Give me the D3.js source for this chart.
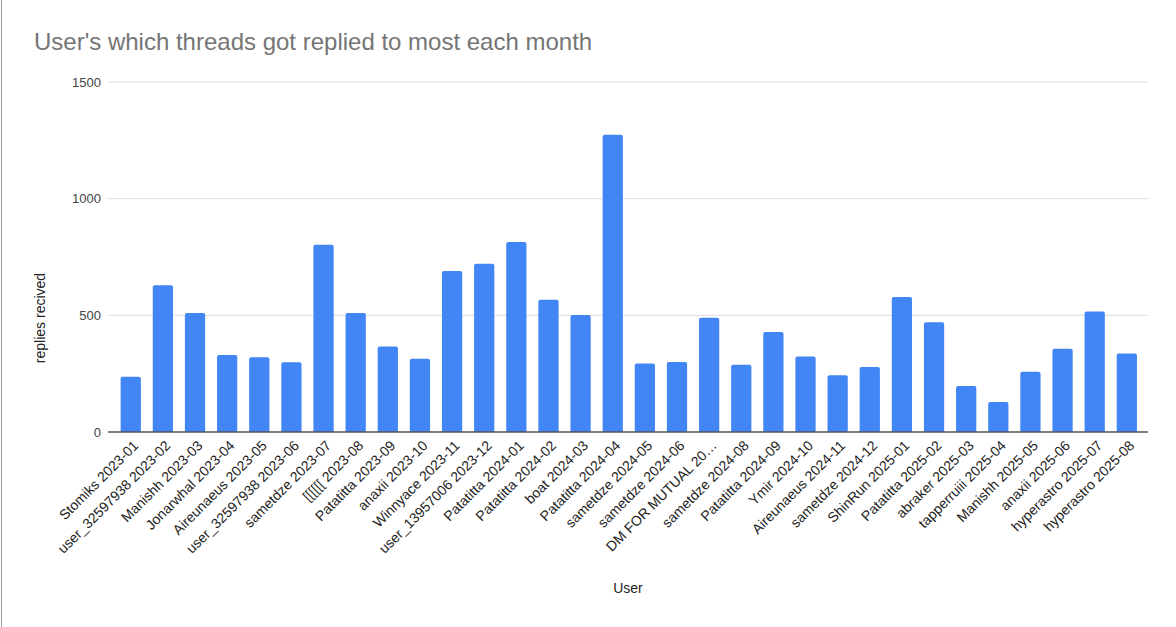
<!DOCTYPE html><html><head>
<meta charset="utf-8">
<style>
  body { margin:0; background:#fff; }
  text { font-family: Arial, "Liberation Sans", sans-serif; }
</style>
</head>
<body>
<svg width="1176" height="627"></svg>
<script src="https://cdn.jsdelivr.net/npm/d3@7"></script>
<script>
// chart data
var users = ["Stomiks 2023-01","user_32597938 2023-02","Manishh 2023-03","Jonarwhal 2023-04",
  "Aireunaeus 2023-05","user_32597938 2023-06","sametdze 2023-07","[[[[[[ 2023-08",
  "Patatitta 2023-09","anaxii 2023-10","Winnyace 2023-11","user_13957006 2023-12",
  "Patatitta 2024-01","Patatitta 2024-02","boat 2024-03","Patatitta 2024-04",
  "sametdze 2024-05","sametdze 2024-06","DM FOR MUTUAL  20\u2026","sametdze 2024-08",
  "Patatitta 2024-09","Ymir 2024-10","Aireunaeus 2024-11","sametdze 2024-12",
  "ShinRun 2025-01","Patatitta 2025-02","abraker 2025-03","tapperruiii 2025-04",
  "Manishh 2025-05","anaxii 2025-06","hyperastro 2025-07","hyperastro 2025-08"];
var replies = [237,629,510,330,320,299,803,510,366,314,690,721,814,567,501,1274,
  294,300,490,288,429,324,243,279,579,470,197,129,258,357,516,336];
var yTicks = [0,500,1000,1500];

var svg = d3.select("svg");

// frame line on the left edge
svg.append("line").attr("x1",1.5).attr("x2",1.5).attr("y1",0).attr("y2",627)
   .attr("stroke","#9e9e9e").attr("stroke-width",1);

var x = d3.scaleBand().domain(users).range([114.7,1142.9]).paddingInner(0.37).paddingOuter(0.185);
var y = d3.scaleLinear().domain([0,1500]).range([432,82]);

// gridlines + tick labels
var grid = svg.append("g");
grid.selectAll("line").data(yTicks.filter(function(d){ return d>0; })).enter()
  .append("line")
  .attr("x1",108).attr("x2",1148)
  .attr("y1",function(d){ return y(d); }).attr("y2",function(d){ return y(d); })
  .attr("stroke","#dcdcdc").attr("stroke-width",1);

grid.selectAll("text").data(yTicks).enter()
  .append("text")
  .attr("x",101).attr("y",function(d){ return y(d); }).attr("dy","0.35em")
  .attr("text-anchor","end").attr("font-size",13).attr("fill","#444")
  .text(function(d){ return d; });

// bars with rounded tops
var r = 2;
svg.append("g").selectAll("path").data(replies).enter()
  .append("path")
  .attr("fill","#4285f4")
  .attr("d", function(d,i){
    var x0 = x(users[i]), w = x.bandwidth(), yt = y(d), yb = y(0);
    return "M"+x0+","+yb+"V"+(yt+r)+"Q"+x0+","+yt+" "+(x0+r)+","+yt+
           "H"+(x0+w-r)+"Q"+(x0+w)+","+yt+" "+(x0+w)+","+(yt+r)+"V"+yb+"Z";
  });

// baseline
svg.append("line").attr("x1",108).attr("x2",1148).attr("y1",y(0)).attr("y2",y(0))
   .attr("stroke","#555").attr("stroke-width",1.3);

// x labels
svg.append("g").selectAll("text").data(users).enter()
  .append("text")
  .attr("transform",function(d){ return "translate("+(x(d)+x.bandwidth()/2+5)+",443) rotate(-45)"; })
  .attr("text-anchor","end").attr("dy","0.35em")
  .attr("font-size",14).attr("fill","#222")
  .text(function(d){ return d; });

// titles
svg.append("text").attr("x",34).attr("y",50)
  .attr("font-size",24).attr("fill","#757575")
  .text("User's which threads got replied to most each month");

svg.append("text")
  .attr("transform","translate(45,318) rotate(-90)")
  .attr("text-anchor","middle").attr("font-size",14).attr("fill","#222")
  .text("replies recived");

svg.append("text").attr("x",628).attr("y",593)
  .attr("text-anchor","middle").attr("font-size",14).attr("fill","#222")
  .text("User");
</script>
</body></html>
